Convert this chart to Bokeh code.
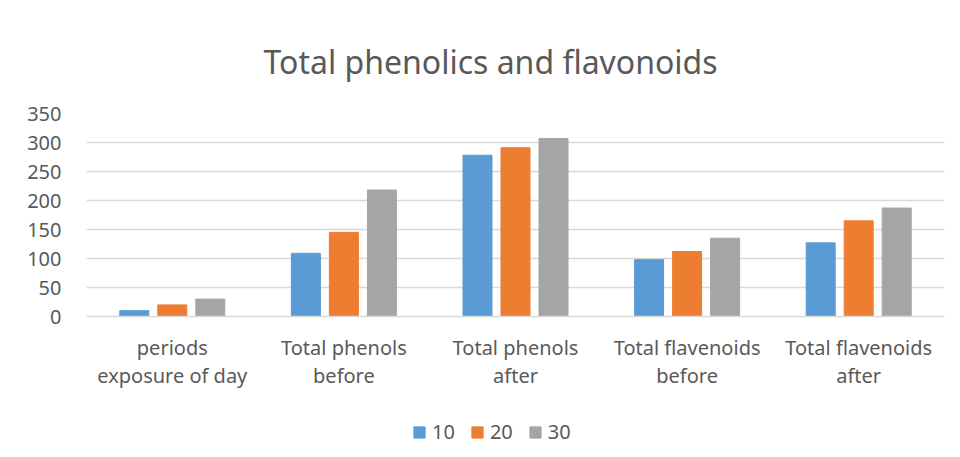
from bokeh.plotting import figure
from bokeh.layouts import column
from bokeh.models import ColumnDataSource, FactorRange, Legend, LegendItem, Range1d, SingleIntervalTicker
from bokeh.transform import dodge
from bokeh.embed import file_html
from bokeh.resources import INLINE

categories = ["periods\nexposure of day", "Total phenols\nbefore", "Total phenols\nafter",
              "Total flavenoids\nbefore", "Total flavenoids\nafter"]
series_names = ["10", "20", "30"]
s10 = [10, 109, 278, 98, 127]
s20 = [20, 145, 291, 112, 165]
s30 = [30, 218, 307, 135, 187]
colors = ["#5B9BD5", "#ED7D31", "#A5A5A5"]

FONT = "Noto Sans"
TXT = "#595959"

src = ColumnDataSource(dict(cat=categories, s10=s10, s20=s20, s30=s30))

p = figure(x_range=FactorRange(*categories), y_range=Range1d(0, 350),
           frame_width=858, frame_height=203,
           output_backend="svg", toolbar_location=None,
           min_border_left=86, min_border_right=8, min_border_top=113, min_border_bottom=0)

p.title.text = "Total phenolics and flavonoids"
p.title.align = "left"
p.title.offset = 177
p.title.text_font = FONT
p.title.text_font_style = "normal"
p.title.text_font_size = "32px"
p.title.text_color = TXT
p.title.standoff = 61

w = 0.169
offs = [-0.2215, 0, 0.2215]
for name, col, off in zip(["s10", "s20", "s30"], colors, offs):
    p.vbar(x=dodge("cat", off, range=p.x_range), top=name, width=w, source=src,
           fill_color=col, line_color=col)

p.xgrid.grid_line_color = None
p.ygrid.grid_line_color = "#D9D9D9"
p.ygrid.grid_line_width = 1.3
p.outline_line_color = None

p.yaxis.ticker = SingleIntervalTicker(interval=50)
p.yaxis.axis_line_color = None
p.yaxis.major_tick_line_color = None
p.yaxis.minor_tick_line_color = None
p.yaxis.major_label_text_font = FONT
p.yaxis.major_label_text_font_size = "20px"
p.yaxis.major_label_text_color = TXT
p.yaxis.major_label_standoff = 19

p.xaxis.axis_line_color = "#D9D9D9"
p.xaxis.axis_line_width = 1.3
p.xaxis.major_tick_line_color = None
p.xaxis.major_label_text_font = FONT
p.xaxis.major_label_text_font_size = "20px"
p.xaxis.major_label_text_color = TXT
p.xaxis.major_label_text_line_height = 1.05
p.xaxis.major_label_standoff = 11

# Separate strip for the legend (same series, same colours)
lg = figure(x_range=FactorRange(*categories), y_range=Range1d(1000, 1001),
            frame_width=952, frame_height=58, output_backend="svg", toolbar_location=None,
            x_axis_location=None, y_axis_location=None,
            min_border_left=0, min_border_right=0, min_border_top=0, min_border_bottom=0)
lg.xgrid.grid_line_color = None
lg.ygrid.grid_line_color = None
lg.outline_line_color = None
lrs = []
for name, col, off in zip(["s10", "s20", "s30"], colors, offs):
    r = lg.vbar(x=dodge("cat", off, range=lg.x_range), top=name, width=w, source=src,
                fill_color=col, line_color=col)
    lrs.append(r)

legend = Legend(items=[LegendItem(label=n, renderers=[r]) for n, r in zip(series_names, lrs)],
                orientation="horizontal", location=(412, 4),
                label_text_font=FONT, label_text_font_size="20px", label_text_color=TXT,
                glyph_width=14, glyph_height=14, spacing=15, label_standoff=6,
                border_line_color=None, background_fill_alpha=0, margin=0, padding=4)
lg.add_layout(legend, "center")

layout = column(p, lg, spacing=0)
open("out.html", "w").write(file_html(layout, INLINE))
